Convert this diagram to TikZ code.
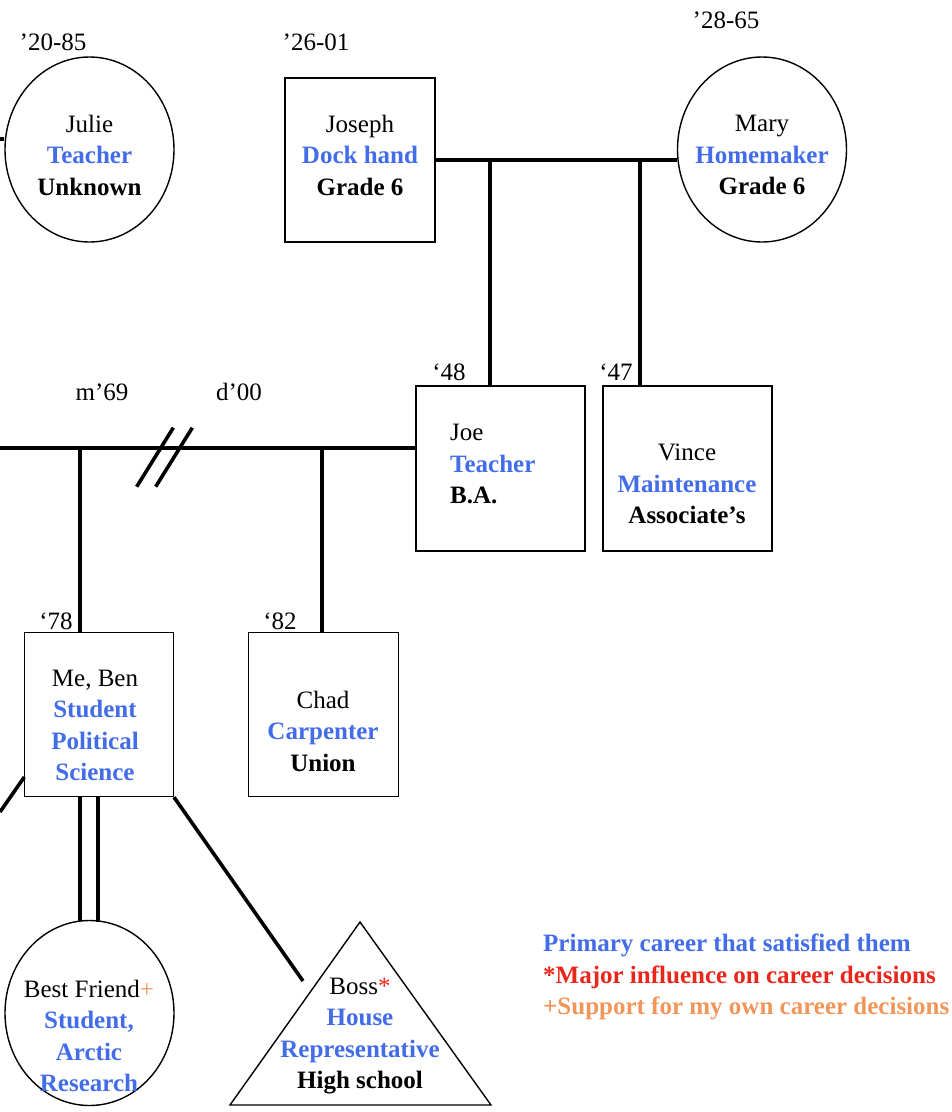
\documentclass[tikz,border=0pt]{standalone}
\usepackage{fontspec}
\setmainfont{Liberation Serif}
\usetikzlibrary{shapes.geometric}
\definecolor{cblue}{RGB}{66,108,232}
\definecolor{cred}{RGB}{232,38,26}
\definecolor{corange}{RGB}{240,150,90}
\tikzset{
  conn/.style={line width=3.6pt},
  outline/.style={draw, line width=1.4pt, fill=white, inner sep=0pt},
  pbox/.style={outline, rectangle},
  pcirc/.style={outline, ellipse, minimum width=169pt, minimum height=185pt},
  txt/.style={font=\fontsize{25}{31.5}\selectfont, align=center, inner sep=0pt},
  yr/.style={font=\fontsize{25}{30}\selectfont, inner sep=0pt},
}
\newcommand{\bl}[1]{{\color{cblue}\bfseries #1}}
\begin{document}
\begin{tikzpicture}[x=1pt,y=-1pt]
\useasboundingbox (0,0) rectangle (952,1112);

% year labels
\node[yr] (y1) at (53,42) {’20-85};
\node[yr] (y2) at (316,42) {’26-01};
\node[yr] (y3) at (726,20) {’28-65};
\node[yr] (y4) at (449,372) {‘48};
\node[yr] (y5) at (616,372) {‘47};
\node[yr] (y6) at (102,392) {m’69};
\node[yr] (y7) at (239,392) {d’00};
\node[yr] (y8) at (56,621) {‘78};
\node[yr] (y9) at (280,621) {‘82};

% coordinates for connectors
\coordinate (jl) at (0,139);
\coordinate (d1) at (490,160);
\coordinate (d2) at (640,160);
\coordinate (ml) at (0,448);
\coordinate (c1) at (80,448);
\coordinate (c2) at (322,448);
\coordinate (s1a) at (136.7,486.7);
\coordinate (s1b) at (173.3,427.7);
\coordinate (s2a) at (155.7,486.7);
\coordinate (s2b) at (192.3,427.7);
\coordinate (b1) at (80,0);
\coordinate (b2) at (98,0);
\coordinate (mo1) at (24.3,777);
\coordinate (mo2) at (0,812);
\coordinate (bossend) at (303,981);
\coordinate (tA) at (360,922);
\coordinate (tB) at (230,1105);
\coordinate (tC) at (491,1105);

% drops from the grandparents' line
\draw[conn] (d1) -- (490,386);
\draw[conn] (d2) -- (640,386);

% people shapes
\node[pcirc] (julie) at (89.5,149.5) {};
\node[pbox, minimum width=150pt, minimum height=164pt] (joseph) at (360,160) {};
\node[pcirc] (mary) at (762,149.5) {};
\node[pbox, minimum width=169pt, minimum height=165pt] (joe) at (500.5,468.5) {};
\node[pbox, minimum width=169pt, minimum height=165pt] (vince) at (687.5,468.5) {};
\node[pbox, minimum width=149pt, minimum height=164pt] (me) at (98.8,714.5) {};
\node[pbox, minimum width=150pt, minimum height=164pt] (chad) at (323.3,714.5) {};
\node[pcirc] (friend) at (89.5,1013) {};
\draw[line width=1.4pt, fill=white] (tA) -- (tB) -- (tC) -- cycle;

% connectors
\draw[conn] (jl) -- (jl -| julie.west);
\draw[conn] (joseph.east) -- (joseph.east -| mary.west);
\draw[conn] (ml) -- (ml -| joe.west);
\draw[conn] (c1) -- (c1 |- me.north);
\draw[conn] (c2) -- (c2 |- chad.north);
\draw[conn] (s1a) -- (s1b);
\draw[conn] (s2a) -- (s2b);
\draw[conn] (mo1) -- (mo2);
\draw[conn] (me.south -| b1) -- (80,921);
\draw[conn] (me.south -| b2) -- (98,921.5);
\draw[conn] (me.south east) -- (bossend);

% texts
\node[txt] (juliet) at (89.5,155) {Julie\\\bl{Teacher}\\\bfseries Unknown};
\node[txt] (josepht) at (360,155) {Joseph\\\bl{Dock hand}\\\bfseries Grade 6};
\node[txt] (maryt) at (762,155) {Mary\\\bl{Homemaker}\\\bfseries Grade 6};
\node[txt, align=left, anchor=west] (joet) at (450,464) {Joe\\\bl{Teacher}\\\bfseries B.A.};
\node[txt] (vincet) at (687,484) {Vince\\\bl{Maintenance}\\\bfseries Associate’s};
\node[txt] (met) at (95,725.5) {Me, Ben\\\bl{Student}\\\bl{Political}\\\bl{Science}};
\node[txt] (chadt) at (323,731) {Chad\\\bl{Carpenter}\\\bfseries Union};
\node[txt] (friendt) at (89,1036) {Best Friend{\color{corange}+}\\\bl{Student,}\\\bl{Arctic}\\\bl{Research}};
\node[txt] (bosst) at (360,1036) {Boss{\color{cred}*}\\\bl{House}\\\bl{Representative}\\\bfseries High school};

% legend
\node[txt, align=left, anchor=west] (legend) at (543,977) {\bl{Primary career that satisfied them}\\{\color{cred}\bfseries *Major influence on career decisions}\\{\color{corange}\bfseries +Support for my own career decisions}};
\end{tikzpicture}
\end{document}
